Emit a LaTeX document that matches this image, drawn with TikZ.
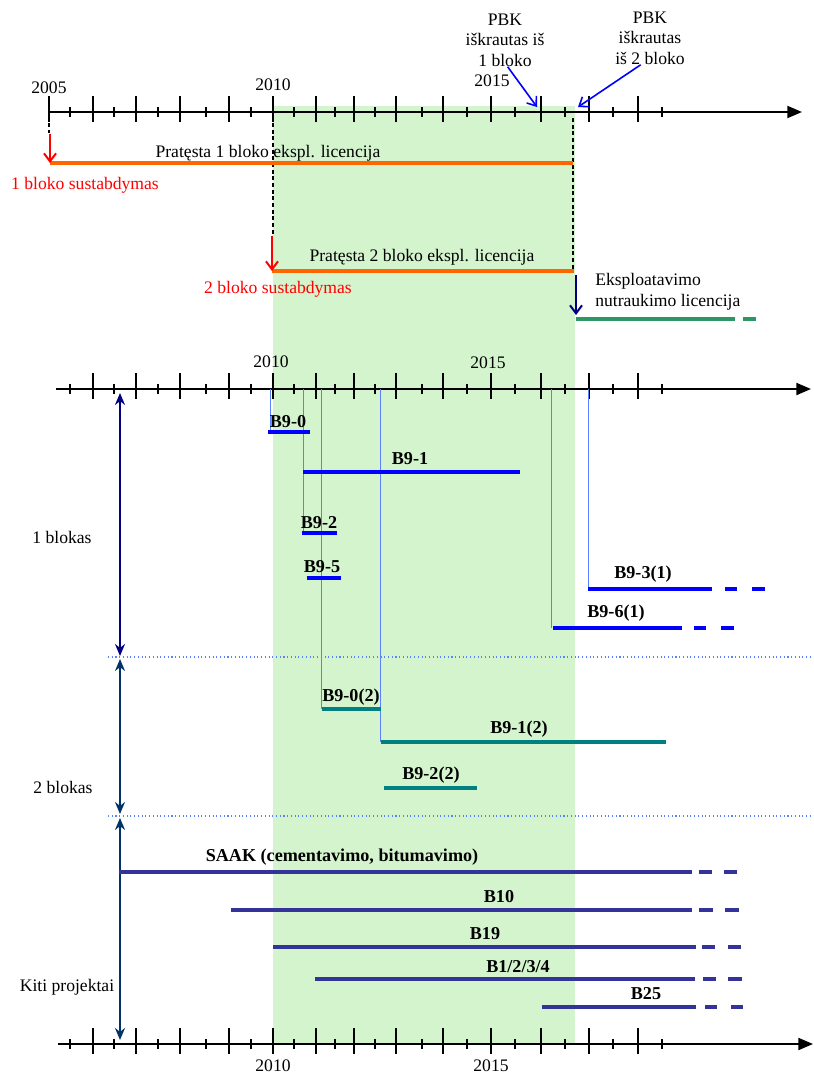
\documentclass[tikz,border=0pt]{standalone}
\usepackage{fontspec}
\setmainfont{Liberation Serif}
\usetikzlibrary{arrows.meta}
\definecolor{licOrange}{RGB}{255,102,0}
\definecolor{stopRed}{RGB}{255,0,0}
\definecolor{blkBlue}{RGB}{0,0,255}
\definecolor{blkTeal}{RGB}{0,128,128}
\definecolor{kitiIndigo}{RGB}{51,51,153}
\definecolor{eksGreen}{RGB}{46,150,100}
\definecolor{spanNavy}{RGB}{0,0,128}
\definecolor{spanDark}{RGB}{0,51,102}
\definecolor{guideBlue}{RGB}{90,130,255}
\definecolor{shadeGreen}{RGB}{212,244,206}

\begin{document}
\begin{tikzpicture}[x=0.75pt,y=-0.75pt,
  every node/.style={font=\fontsize{13.2}{15.5}\selectfont, inner sep=0pt},
  barlabel/.style={font=\fontsize{13.6}{15.5}\selectfont\bfseries},
  axisline/.style={line width=1.5pt,-{Triangle[length=11pt,width=9pt]}},
  majortick/.style={line width=1.5pt},
  minortick/.style={line width=1pt},
  licbar/.style={licOrange, line width=3pt},
  bar/.style={line width=3pt},
  stoparrow/.style={stopRed, line width=1.5pt, -{Straight Barb[length=6pt,width=9pt]}},
  pbkarrow/.style={blkBlue, line width=1.2pt, -{Straight Barb[length=6pt,width=9pt]}},
  spanarrow/.style={line width=1.3pt, {Stealth[length=9pt,width=7.5pt]}-{Stealth[length=9pt,width=7.5pt]}},
  guide/.style={guideBlue, line width=0.4pt},
  blackdash/.style={line width=0.8pt, dash pattern=on 3pt off 2pt},
  sepline/.style={guideBlue, line width=0.8pt, dotted}]
\useasboundingbox (0,0) rectangle (814,1075);

% green time window
\fill[shadeGreen] (273,106) rectangle (575,1044);

% three time axes with ticks
\foreach \ya in {112,389,1044}{
  \foreach \x in {93,136,180,229,273,316,354,396,443,491,541,589,638}
    \draw[majortick] (\x,\ya-16) -- (\x,\ya+10);
  \foreach \x in {70,114,158,206,251,294,335,375,422,467,515,565,613,662}
    \draw[minortick] (\x,\ya-5) -- (\x,\ya+5);
}
\draw[majortick] (49,96) -- (49,122);
\draw[axisline] (49,112) -- (802,112);
\draw[axisline] (56,389) -- (811,389);
\draw[axisline] (58,1044) -- (813,1044);

\node (y2005) at (49,88) {2005};
\node (y2010a) at (273,85) {2010};
\node (y2015a) at (492,81) {2015};
\node (y2010b) at (271,362) {2010};
\node (y2015b) at (488,363) {2015};
\node (y2010c) at (273,1066) {2010};
\node (y2015c) at (491,1066) {2015};

% PBK unloading marks
\node[align=center] (pbk1) at (505,40) {PBK\\iškrautas iš\\1 bloko};
\node[align=center] (pbk2) at (650,38) {PBK\\iškrautas\\iš 2 bloko};
\coordinate (pbk1end) at (537,107);
\coordinate (pbk2end) at (578,107);
\draw[pbkarrow] ([xshift=2pt]pbk1.south) -- (pbk1end);
\draw[pbkarrow] ([xshift=-7pt]pbk2.south) -- (pbk2end);

% licence extensions
\draw[blackdash] (49,123) -- (49,133);
\draw[blackdash] (273,123) -- (273,234);
\draw[blackdash] (573,118) -- (573,269);
\coordinate (lic1a) at (50,163);
\coordinate (lic1b) at (573,163);
\draw[licbar] (lic1a) -- (lic1b);
\draw[stoparrow] ([yshift=22pt]lic1a) -- (lic1a);
\node (lic1) at (268,153) {Pratęsta 1 bloko ekspl. licencija};
\node[text=stopRed] (stop1) at (85,185) {1 bloko sustabdymas};

\coordinate (lic2a) at (272,271);
\coordinate (lic2b) at (574,271);
\draw[licbar] (lic2a) -- (lic2b);
\draw[stoparrow] ([yshift=26pt]lic2a) -- (lic2a);
\node (lic2) at (422,257) {Pratęsta 2 bloko ekspl. licencija};
\node[text=stopRed] (stop2) at (278,289) {2 bloko sustabdymas};

\coordinate (eksa) at (576,319);
\draw[bar, eksGreen] (eksa) -- (735,319);
\draw[bar, eksGreen] (743,319) -- (756,319);
\draw[spanNavy, line width=1.5pt, -{Straight Barb[length=6pt,width=9pt]}] ([yshift=33pt]eksa) -- ([yshift=3pt]eksa);
\node[anchor=west, align=left] (eks) at (595,292) {Eksploatavimo\\nutraukimo licencija};

% guide lines from the middle axis
\foreach \x/\y in {270/432, 303/533, 321/709, 380/742, 551/628, 588/589}
  \draw[guide] (\x,389) -- (\x,\y);

% separators and block spans
\draw[sepline] (108,657) -- (814,657);
\draw[sepline] (108,816) -- (814,816);
\coordinate (span0) at (120,393);
\coordinate (span1) at (120,656);
\coordinate (span2) at (120,659);
\coordinate (span3) at (120,814);
\coordinate (span4) at (120,818);
\coordinate (span5) at (120,1040);
\draw[spanarrow, spanNavy] (span0) -- (span1);
\draw[spanarrow, spanDark] (span2) -- (span3);
\draw[spanarrow, spanDark] (span4) -- (span5);
\node (blk1) at (62,537) {1 blokas};
\node (blk2) at (63,787) {2 blokas};
\node (kiti) at (67,987) {Kiti projektai};

% 1 blokas projects
\draw[bar, blkBlue] (268,432) -- (310,432);
\node[barlabel] (b90) at (288,422) {B9-0};
\draw[bar, blkBlue] (303,472) -- (520,472);
\node[barlabel] (b91) at (410,459) {B9-1};
\draw[bar, blkBlue] (302,533) -- (337,533);
\node[barlabel] (b92) at (319,523) {B9-2};
\draw[bar, blkBlue] (307,578) -- (341,578);
\node[barlabel] (b95) at (322,567) {B9-5};
\draw[bar, blkBlue] (588,589) -- (712,589);
\draw[bar, blkBlue] (725,589) -- (737,589);
\draw[bar, blkBlue] (752,589) -- (765,589);
\node[barlabel] (b931) at (643,574) {B9-3(1)};
\draw[bar, blkBlue] (553,628) -- (682,628);
\draw[bar, blkBlue] (694,628) -- (706,628);
\draw[bar, blkBlue] (721,628) -- (734,628);
\node[barlabel] (b961) at (616,613) {B9-6(1)};

% 2 blokas projects
\draw[bar, blkTeal] (322,709) -- (381,709);
\node[barlabel] (b902) at (351,697) {B9-0(2)};
\draw[bar, blkTeal] (381,742) -- (666,742);
\node[barlabel] (b912) at (519,729) {B9-1(2)};
\draw[bar, blkTeal] (384,788) -- (477,788);
\node[barlabel] (b922) at (431,775) {B9-2(2)};

% other projects
\draw[bar, kitiIndigo] (119,872) -- (692,872);
\draw[bar, kitiIndigo] (699,872) -- (712,872);
\draw[bar, kitiIndigo] (724,872) -- (737,872);
\node[barlabel] (saak) at (342,857) {SAAK (cementavimo, bitumavimo)};
\draw[bar, kitiIndigo] (231,910) -- (692,910);
\draw[bar, kitiIndigo] (699,910) -- (713,910);
\draw[bar, kitiIndigo] (725,910) -- (739,910);
\node[barlabel] (b10) at (499,897) {B10};
\draw[bar, kitiIndigo] (273,947) -- (696,947);
\draw[bar, kitiIndigo] (702,947) -- (715,947);
\draw[bar, kitiIndigo] (728,947) -- (741,947);
\node[barlabel] (b19) at (485,934) {B19};
\draw[bar, kitiIndigo] (315,979) -- (695,979);
\draw[bar, kitiIndigo] (703,979) -- (716,979);
\draw[bar, kitiIndigo] (728,979) -- (742,979);
\node[barlabel] (b1234) at (518,967) {B1/2/3/4};
\draw[bar, kitiIndigo] (542,1007) -- (696,1007);
\draw[bar, kitiIndigo] (705,1007) -- (717,1007);
\draw[bar, kitiIndigo] (731,1007) -- (743,1007);
\node[barlabel] (b25) at (646,994) {B25};
\end{tikzpicture}
\end{document}
